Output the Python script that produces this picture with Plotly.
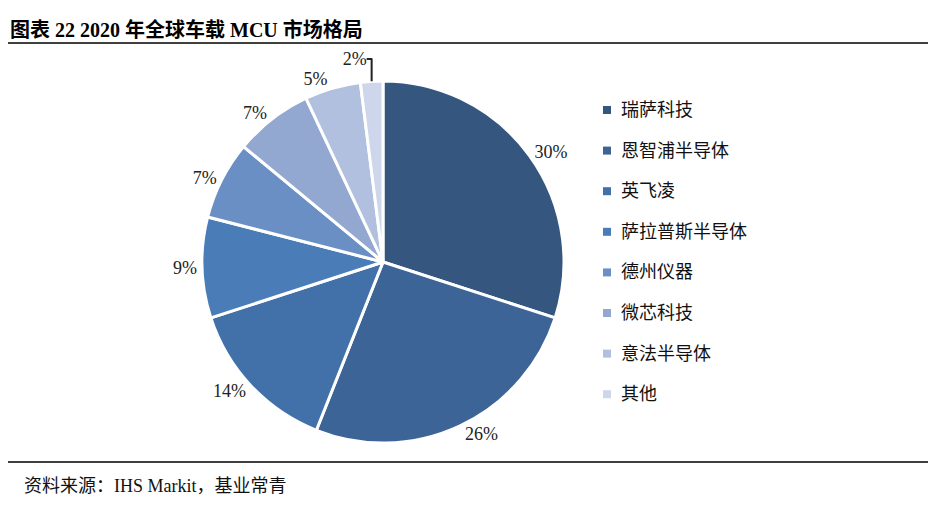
import plotly.graph_objects as go

companies = ["瑞萨科技", "恩智浦半导体", "英飞凌", "萨拉普斯半导体", "德州仪器", "微芯科技", "意法半导体", "其他"]
shares = [30, 26, 14, 9, 7, 7, 5, 2]
colors = ["#35567f", "#3c6496", "#4270a8", "#4a7db8", "#6a8fc4", "#92a8d0", "#b0c0de", "#cdd6ea"]

W, H = 936, 506
D = 8  # page offset correction
FONT = "Liberation Serif, Noto Sans CJK SC"


def px(x):
    return (x - D) / W


def py(y):
    return 1 - (y - D) / H


fig = go.Figure(go.Pie(
    labels=companies, values=shares, sort=False, direction="clockwise", rotation=0,
    marker=dict(colors=colors, line=dict(color="white", width=3)),
    texttemplate="%{value}%", textposition="outside",
    textfont=dict(family=FONT, size=18, color="#222"),
    domain=dict(x=[px(383 - 181), px(383 + 181)], y=[py(443), py(81)]),
    showlegend=False, hoverinfo="label+percent",
))

# custom legend
for i, (name, c) in enumerate(zip(companies, colors)):
    yc = py(110 + i * 40.6)
    fig.add_shape(type="rect", xref="paper", yref="paper",
                  x0=px(603), x1=px(611), y0=yc - 4 / H, y1=yc + 4 / H,
                  fillcolor=c, line=dict(width=0))
    fig.add_annotation(x=px(619), y=yc, xref="paper", yref="paper", text=name,
                       showarrow=False, xanchor="left", yanchor="middle",
                       font=dict(family=FONT, size=18, color="#111"))

fig.add_annotation(x=px(8), y=py(30), xref="paper", yref="paper",
                   text="<b>图表 22 2020 年全球车载 MCU 市场格局</b>", showarrow=False,
                   xanchor="left", yanchor="middle", font=dict(family=FONT, size=20, color="#000"))
fig.add_annotation(x=px(22), y=py(486), xref="paper", yref="paper",
                   text="资料来源：IHS Markit，基业常青", showarrow=False,
                   xanchor="left", yanchor="middle", font=dict(family=FONT, size=18, color="#111"))
for yy in (43, 462):
    fig.add_shape(type="line", xref="paper", yref="paper", x0=px(8), x1=px(928),
                  y0=py(yy), y1=py(yy), line=dict(color="#000", width=1.5))

fig.update_layout(width=W, height=H, margin=dict(l=0, r=0, t=0, b=0),
                  paper_bgcolor="white", plot_bgcolor="white")
fig.write_html("out.html")
